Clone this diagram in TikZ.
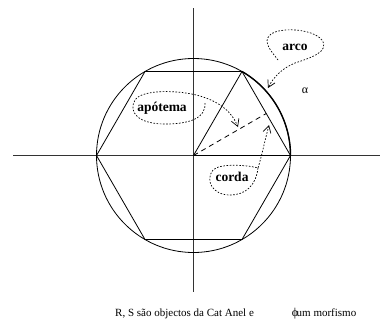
\documentclass[tikz,border=0pt]{standalone}
\usepackage{fontspec}
\setmainfont{Liberation Serif}
\usetikzlibrary{arrows.meta}
\tikzset{
  axisline/.style={line width=0.7pt, draw=black!80},
  shape line/.style={line width=0.8pt},
  bold line/.style={line width=1.4pt},
  callout/.style={line width=0.7pt, dash pattern=on 1.6pt off 1.6pt, -{Straight Barb[length=7pt,width=8pt,line width=0.7pt]}},
  calloutlabel/.style={font=\bfseries\fontsize{13.5}{14}\selectfont, inner sep=0pt},
}
\begin{document}
\begin{tikzpicture}[x=1pt,y=-1pt]
\useasboundingbox (0,0) rectangle (380,322);
% key points
\coordinate (C) at (193.5,155.5);
\coordinate (V0) at (290.5,155.5);
\coordinate (V1) at (242,71.5);
\coordinate (V2) at (145,71.5);
\coordinate (V3) at (96.5,155.5);
\coordinate (V4) at (145,239.5);
\coordinate (V5) at (242,239.5);
\coordinate (M) at (266.25,113.5);
\coordinate (AxL) at (13,155.5);
\coordinate (AxR) at (380,155.5);
\coordinate (AxT) at (193.5,8);
\coordinate (AxB) at (193.5,292);
% axes
\draw[axisline] (AxL) -- (AxR);
\draw[axisline] (AxT) -- (AxB);
% circle and hexagon
\draw[shape line] (C) circle[radius=97pt];
\draw[shape line] (V0) -- (V1) -- (V2) -- (V3) -- (V4) -- (V5) -- cycle;
% triangle and bold parts
\draw[shape line] (C) -- (V1);
\draw[bold line] (C) -- (V0);
\draw[bold line] (V1) arc[start angle=60, end angle=0, radius=97pt];
% apothem
\draw[shape line, dashed, dash pattern=on 5pt off 4pt] (C) -- (M);
% labels
\node[calloutlabel] (ap) at (162,108) {apótema};
\node[calloutlabel] (co) at (232,177) {corda};
\node[calloutlabel] (ar) at (295,47) {arco};
\node[font=\fontsize{12}{14}\selectfont, inner sep=0pt] (al) at (305,91) {α};
% callouts
\draw[callout] (205,103) .. controls (206,118) and (190,124) .. (165,124)
  .. controls (138,124) and (128,112) .. (135,100)
  .. controls (142,89) and (180,90) .. (200,96)
  .. controls (220,102) and (232,112) .. (238,127);
\draw[callout] (258,168) .. controls (256,185) and (246,195) .. (230,195)
  .. controls (212,195) and (205,180) .. (213,170)
  .. controls (220,163) and (248,165) .. (258,168)
  .. controls (262,155) and (265,140) .. (269,125);
\draw[callout] (278,60) .. controls (272,52) and (262,42) .. (270,35)
  .. controls (278,27) and (312,28) .. (322,40)
  .. controls (330,52) and (310,58) .. (295,63)
  .. controls (283,68) and (274,76) .. (268,88);
% bottom caption
\node[anchor=base west, inner sep=0pt, font=\fontsize{11}{13}\selectfont] (cap1) at (115,316) {R, S são objectos da Cat Anel e};
\node[anchor=base west, inner sep=0pt, font=\fontsize{11}{13}\selectfont] (cap2) at (296.5,316) {um morfismo};
\node[anchor=base, inner sep=0pt, font=\fontsize{12}{13}\selectfont] (phi) at (295,316) {ϕ};
\end{tikzpicture}
\end{document}
